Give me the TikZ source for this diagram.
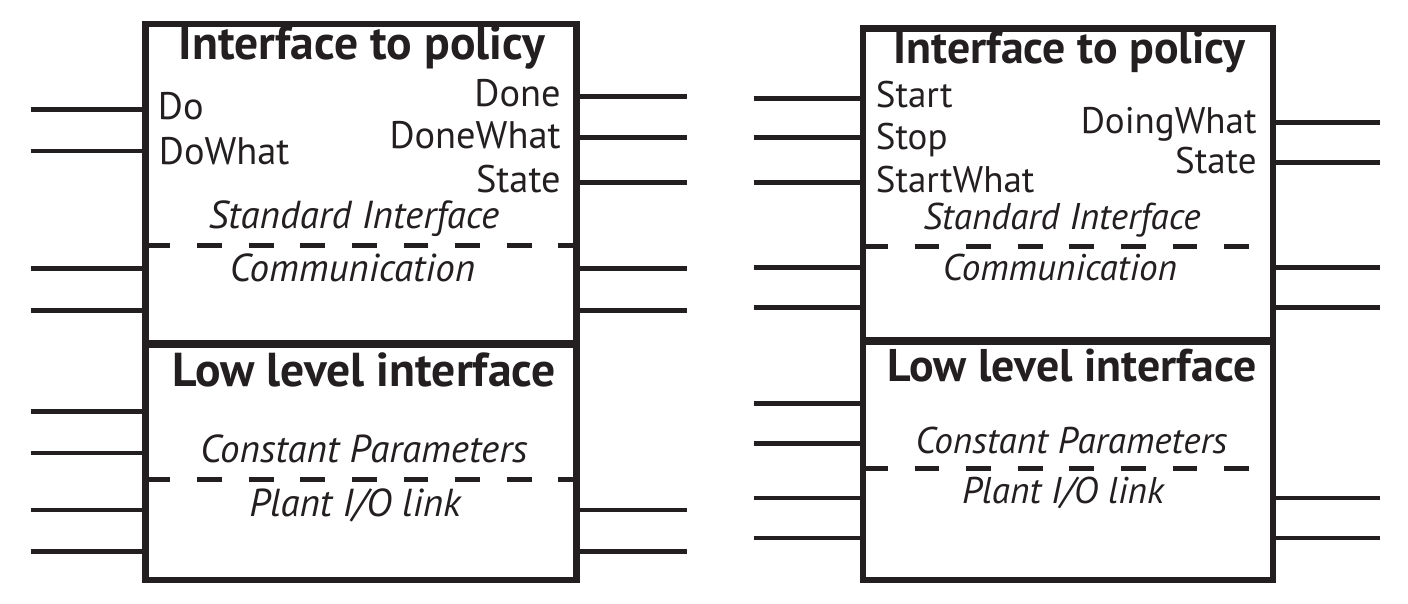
\documentclass[tikz,border=0pt]{standalone}
\usepackage{fontspec}
\setmainfont{PT Sans}
\definecolor{ink}{HTML}{231F20}
\begin{document}
\begin{tikzpicture}[x=0.5pt,y=-0.5pt,
  blk/.style={draw=ink, line width=3.2pt, inner sep=0pt, outer sep=0pt, anchor=north west},
  wire/.style={draw=ink, line width=2.4pt},
  sepline/.style={draw=ink, line width=2.4pt, dash pattern=on 12.4pt off 13.4pt},
  divider/.style={draw=ink, line width=3.8pt},
  title/.style={font=\fontsize{23.8}{26}\selectfont\bfseries, anchor=base, inner sep=0pt, text=ink},
  sig/.style={font=\fontsize{19.2}{22}\selectfont, inner sep=0pt, text=ink},
  part/.style={font=\fontsize{19.5}{22}\selectfont\itshape, anchor=base, inner sep=0pt, text=ink},
  rtitle/.style={title, font=\fontsize{22.9}{25}\selectfont\bfseries},
  rsig/.style={sig, font=\fontsize{18.5}{21}\selectfont},
  rpart/.style={part, font=\fontsize{18.6}{21}\selectfont\itshape},
]
\useasboundingbox (0,0) rectangle (1408,604);

% ---------------- left module ----------------
\coordinate (LsA) at (145.5,245.7);
\coordinate (LsB) at (145.5,479.3);
\coordinate (LsAe) at (576.5,245.7);
\coordinate (LsBe) at (576.5,479.3);
\draw[sepline] (LsA) -- (LsAe);
\draw[sepline] (LsB) -- (LsBe);

\node[blk, minimum width=215.5pt, minimum height=160pt] (Lup) at (145.5,24) {};
\node[blk, minimum width=215.5pt, minimum height=118pt] (Llow) at (145.5,344) {};
\draw[divider] (Llow.north west) -- (Llow.north east);

\foreach \y [count=\i] in {109.3,151,268.3,310.3,411.3,453,510,551.3} {
  \coordinate (Lin\i) at (30.5,\y);
  \draw[wire] (Lin\i) -- (Lin\i -| Lup.west);
}
\foreach \y [count=\i] in {96.7,137.7,182.7,268.3,310.3,510,551.3} {
  \coordinate (Lout\i) at (687,\y);
  \draw[wire] (Lout\i -| Lup.east) -- (Lout\i);
}

\node[title] (LtA) at (362,60) {Interface to policy};
\node[sig, anchor=base west] (Ldo) at (157.5,120) {Do};
\node[sig, anchor=base west] (Ldowhat) at (158.5,165) {DoWhat};
\node[sig, anchor=base east] (Ldone) at (561,107) {Done};
\node[sig, anchor=base east] (Ldonewhat) at (561,149) {DoneWhat};
\node[sig, anchor=base east] (Lstate) at (561,193) {State};
\node[part] (Lstd) at (354,229) {Standard Interface};
\node[part] (Lcom) at (352.5,281.7) {Communication};
\node[title] (LtB) at (364,386) {Low level interface};
\node[part] (Lconst) at (364,462.7) {Constant Parameters};
\node[part] (Lplant) at (355,516) {Plant I/O link};

% ---------------- right module ----------------
\coordinate (RsA) at (863,246.7);
\coordinate (RsB) at (863,468.7);
\coordinate (RsAe) at (1273,246.7);
\coordinate (RsBe) at (1273,468.7);
\draw[sepline] (RsA) -- (RsAe);
\draw[sepline] (RsB) -- (RsBe);

\node[blk, minimum width=205pt, minimum height=156pt] (Rup) at (863,28.7) {};
\node[blk, minimum width=205pt, minimum height=119.65pt] (Rlow) at (863,340.7) {};
\draw[divider] (Rlow.north west) -- (Rlow.north east);

\foreach \y [count=\i] in {98.3,137.7,182.7,267.7,307.7,403.7,443.7,498,538} {
  \coordinate (Rin\i) at (753.5,\y);
  \draw[wire] (Rin\i) -- (Rin\i -| Rup.west);
}
\foreach \y [count=\i] in {122.7,162.7,267.7,307.7,498,538} {
  \coordinate (Rout\i) at (1380,\y);
  \draw[wire] (Rout\i -| Rup.east) -- (Rout\i);
}

\node[rtitle] (RtA) at (1069.5,63.3) {Interface to policy};
\node[rsig, anchor=base west] (Rstart) at (875.5,108) {Start};
\node[rsig, anchor=base west] (Rstop) at (875.5,150) {Stop};
\node[rsig, anchor=base west] (Rstartwhat) at (875.5,193) {StartWhat};
\node[rsig, anchor=base east] (Rdoing) at (1257,133.3) {DoingWhat};
\node[rsig, anchor=base east] (Rstate) at (1257,173.3) {State};
\node[rpart] (Rstd) at (1062,230) {Standard Interface};
\node[rpart] (Rcom) at (1060,281) {Communication};
\node[rtitle] (RtB) at (1072,381) {Low level interface};
\node[rpart] (Rconst) at (1071.5,453.7) {Constant Parameters};
\node[rpart] (Rplant) at (1063,503.7) {Plant I/O link};
\end{tikzpicture}
\end{document}
